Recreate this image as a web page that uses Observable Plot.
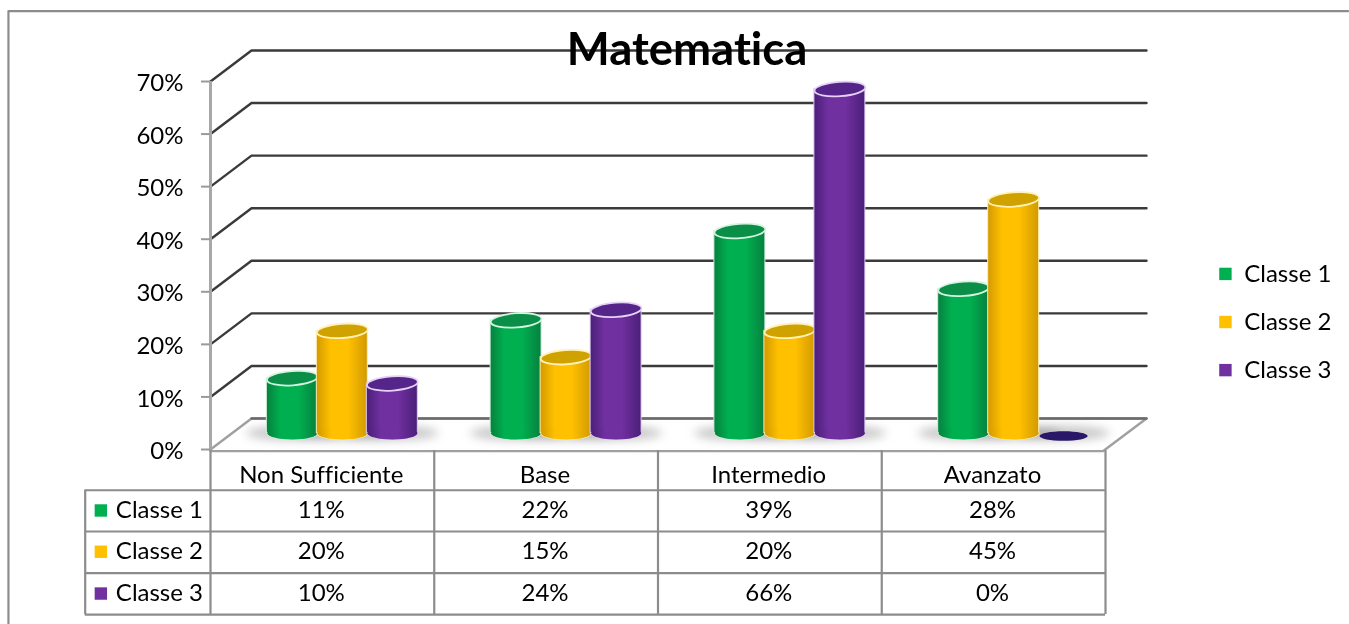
<!DOCTYPE html>
<html>
<head>
<meta charset="utf-8">
<script src="https://cdn.jsdelivr.net/npm/d3@7"></script>
<script src="https://cdn.jsdelivr.net/npm/@observablehq/plot@0.6"></script>
<style>
html,body{margin:0;padding:0;background:#fff;overflow:hidden}
svg{display:block;filter:blur(.4px)}
svg text{font-variant-ligatures:none}
</style>
</head>
<body>
<div id="chart"></div>
<script>
const title = "Matematica";
const categories = ["Non Sufficiente", "Base", "Intermedio", "Avanzato"];
const seriesNames = ["Classe 1", "Classe 2", "Classe 3"];
const classe1 = [11, 22, 39, 28];
const classe2 = [20, 15, 20, 45];
const classe3 = [10, 24, 66, 0];
const yTicks = [0, 10, 20, 30, 40, 50, 60, 70];
const seriesValues = [classe1, classe2, classe3];
const baseColors = ["#00B050", "#FFC000", "#7030A0"];
const capColors = ["#0B8F48", "#CFA200", "#55258A"];
const rimColors = ["#D5F5E0", "#FFF1B8", "#E6D2F7"];
const edgeColors = ["#06803F", "#D29A00", "#4A1F78"];

// Layout expressed in chart units (x: one unit per category, y: percent)
const unitX = 895 / 4, unitY = 368 / 70;
const depthX = 41 / unitX, depthY = 31 / unitY;
const barShiftX = 20 / unitX, baseShiftY = 16.5 / unitY, topShiftY = 13.5 / unitY;
const barStep = 50 / unitX, barHalf = 25.5 / unitX;
const rowY = [-4.9, -11.6, -19.45, -27.4];
const rowLines = [-0.2, -7.75, -15.6, -23.5, -31.4];
const tableLeft = -0.56;
const frameLeft = -0.903;
const frameTop = 83.4;
const frameBottom = -33.4;
const frameRight = 5.09;

const bars = seriesValues.map((vals, s) => vals.map((v, i) => {
  const cx = i + 0.5 + barShiftX + (s - 1) * barStep;
  return {s, i, v, cx, x1: cx - barHalf, x2: cx + barHalf, y0: baseShiftY, y1: v + topShiftY};
}));

const ellipse = ratio => ({
  draw(ctx, size) {
    const rx = Math.sqrt(size / Math.PI), ry = rx * ratio, k = 0.5523;
    ctx.moveTo(rx, 0);
    ctx.bezierCurveTo(rx, k * ry, k * rx, ry, 0, ry);
    ctx.bezierCurveTo(-k * rx, ry, -rx, k * ry, -rx, 0);
    ctx.bezierCurveTo(-rx, -k * ry, -k * rx, -ry, 0, -ry);
    ctx.bezierCurveTo(k * rx, -ry, rx, -k * ry, rx, 0);
    ctx.closePath();
  }
});

const font = "Lato, Carlito, Calibri, sans-serif";
const marks = [];

// outer frame: only the top and left edges are visible in the picture
marks.push(Plot.ruleY([frameTop], {x1: frameLeft, x2: frameRight, stroke: "#8c8c8c", strokeWidth: 2.2}));
marks.push(Plot.ruleX([frameLeft], {y1: frameTop, y2: frameBottom, stroke: "#8c8c8c", strokeWidth: 2.2}));

// walls: gridlines running from the front axis to the back wall
for (const t of yTicks) {
  if (t === 0) continue;
  marks.push(Plot.line([{x: 0, y: t}, {x: depthX, y: t + depthY}, {x: 4 + depthX, y: t + depthY}], {x: "x", y: "y", stroke: "#3a3a3a", strokeWidth: 2.4}));
}

// floor
marks.push(Plot.line(
  [{x: 0, y: 0}, {x: depthX, y: depthY}, {x: 4 + depthX, y: depthY}, {x: 4 - 0.01, y: -0.3}, {x: 0, y: -0.3}, {x: 0, y: 0}],
  {x: "x", y: "y", fill: "white", stroke: "#a0a0a0", strokeWidth: 2.4}));
marks.push(Plot.line([{x: depthX, y: depthY}, {x: 4 + depthX, y: depthY}], {x: "x", y: "y", stroke: "#6a6a6a", strokeWidth: 2.4}));

// value axis
marks.push(Plot.ruleX([0], {y1: 0, y2: 70, stroke: "#a8a8a8", strokeWidth: 3}));
marks.push(Plot.axisY({ticks: yTicks, tickSize: 9, text: null, stroke: "#9a9a9a", strokeWidth: 2, label: null}));
marks.push(Plot.axisY({
  ticks: yTicks, tickFormat: d => d + "%", tickSize: 0, tickPadding: 27, dy: 2,
  fill: "black", fontSize: 24, fontFamily: font, label: null
}));

// shadows
marks.push(Plot.dot(bars.flat(), {x: "cx", y: "y0", r: 46, symbol: ellipse(0.16), fill: "#707070", fillOpacity: 0.38, imageFilter: "blur(5px)"}));

// cylinders: one layered stack per series so later classes overlap earlier ones
bars.forEach((rows, s) => {
  const filled = rows.filter(d => d.v > 0);
  const empty = rows.filter(d => d.v === 0);
  const rim = {stroke: rimColors[s], strokeWidth: 1.2, strokeOpacity: 0.8};
  marks.push(Plot.dot(filled, {x: "cx", y: "y0", r: 25.5, symbol: ellipse(0.26), fill: `url(#body${s})`, ...rim}));
  marks.push(Plot.rect(filled, {x1: "x1", x2: "x2", y1: "y0", y2: "y1", fill: `url(#body${s})`, inset: 0, ...rim}));
  marks.push(Plot.dot(filled, {x: "cx", y: "y0", r: 25, symbol: ellipse(0.26), fill: `url(#body${s})`}));
  marks.push(Plot.dot(filled, {x: "cx", y: "y1", r: 25.5, symbol: ellipse(0.28), rotate: -4, fill: capColors[s], stroke: rimColors[s], strokeWidth: 1.8}));
  if (empty.length) marks.push(Plot.dot(empty, {x: "cx", y: "y1", r: 24, symbol: ellipse(0.2), fill: "#2B1768"}));
});

// data table: grid
const tableStroke = {stroke: "#8c8c8c", strokeWidth: 2.2};
[0, 1, 2, 3, 4].forEach(c => marks.push(Plot.ruleX([c], {y1: rowLines[0], y2: rowLines[4], ...tableStroke})));
marks.push(Plot.ruleX([tableLeft], {y1: rowLines[1], y2: rowLines[4], ...tableStroke}));
rowLines.slice(1).forEach(l => marks.push(Plot.ruleY([l], {x1: tableLeft, x2: 4, ...tableStroke})));

// data table: texts
const tableText = {fontSize: 24, fontFamily: font, fill: "black", textAnchor: "middle"};
marks.push(Plot.text(categories, {x: (d, i) => i + 0.495, y: () => rowY[0], text: d => d, ...tableText}));
seriesValues.forEach((vals, s) => {
  marks.push(Plot.text(vals, {x: (d, i) => i + 0.495, y: () => rowY[s + 1], text: d => d + "%", ...tableText}));
});
marks.push(Plot.text(seriesNames, {x: tableLeft + 0.137, y: (d, i) => rowY[i + 1], text: d => d, fontSize: 24, fontFamily: font, fill: "black", textAnchor: "start"}));
marks.push(Plot.dot(seriesNames, {x: tableLeft + 0.07, y: (d, i) => rowY[i + 1], r: 7, symbol: "square", fill: (d, i) => baseColors[i]}));

// legend
const legendY = [33.4, 24.25, 15.1];
marks.push(Plot.dot(seriesNames, {x: 4.536, y: (d, i) => legendY[i], r: 7, symbol: "square", fill: (d, i) => baseColors[i]}));
marks.push(Plot.text(seriesNames, {x: 4.62, y: (d, i) => legendY[i], text: d => d, fontSize: 24, fontFamily: font, fill: "black", textAnchor: "start"}));

// title
marks.push(Plot.text([title], {x: () => 2.13, y: () => 76.0, text: d => d, fontSize: 45.5, fontWeight: "bold", fontFamily: font, fill: "black", textAnchor: "middle"}));

const chart = Plot.plot({
  width: 1349, height: 624,
  marginLeft: 210, marginRight: 244, marginTop: 81, marginBottom: 175,
  x: {domain: [0, 4], axis: null},
  y: {domain: [0, 70], axis: null},
  color: {type: "identity"},
  style: {background: "white", overflow: "visible"},
  marks
});

const defs = d3.select(chart).insert("defs", ":first-child");
baseColors.forEach((c, s) => {
  const g = defs.append("linearGradient").attr("id", `body${s}`).attr("x1", 0).attr("x2", 1).attr("y1", 0).attr("y2", 0);
  [[0, edgeColors[s]], [0.28, c], [0.62, c], [1, edgeColors[s]]].forEach(([o, col]) =>
    g.append("stop").attr("offset", o).attr("stop-color", col));
});
document.getElementById("chart").appendChild(chart);
</script>
</body>
</html>
